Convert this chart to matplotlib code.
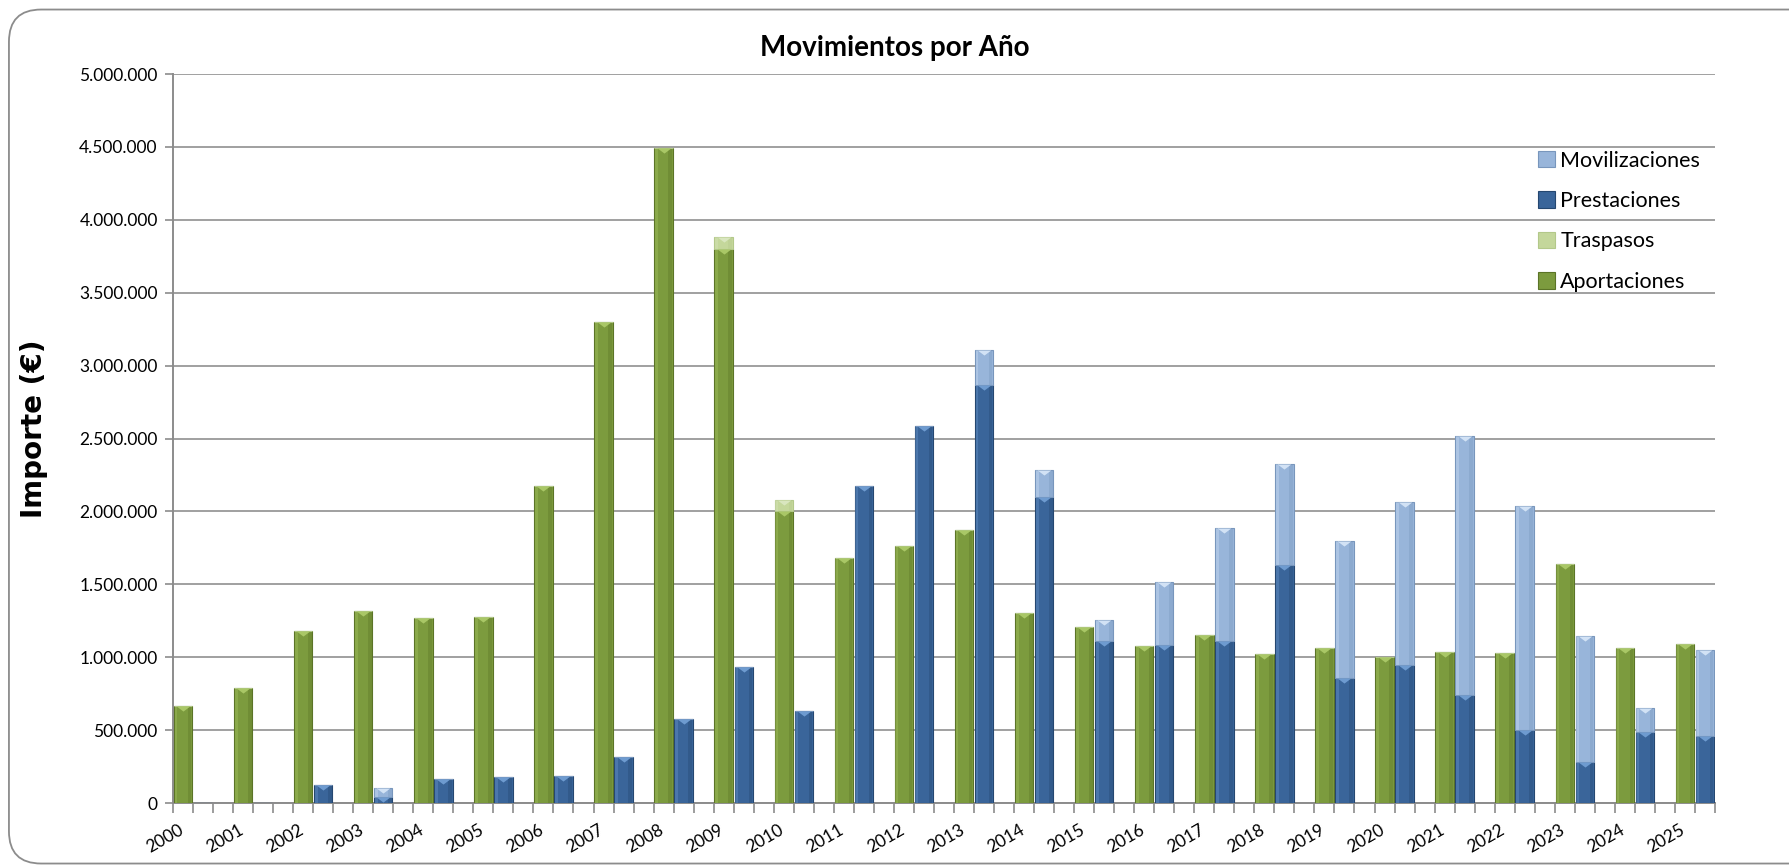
import numpy as np
import matplotlib
matplotlib.use("Agg")
import matplotlib.pyplot as plt
from matplotlib.patches import FancyBboxPatch, Patch
from matplotlib.path import Path
from matplotlib.ticker import FuncFormatter, MultipleLocator
from matplotlib.transforms import offset_copy

plt.rcParams['font.family'] = ['Lato', 'DejaVu Sans']

years = [str(y) for y in range(2000, 2026)]

aportaciones = [668000, 789000, 1178000, 1320000, 1272000, 1279000, 2173000, 3300000,
                4495000, 3800000, 2000000, 1683000, 1760000, 1876000, 1301000, 1208000,
                1075000, 1150000, 1020000, 1066000, 1002000, 1038000, 1032000, 1638000,
                1061000, 1089000]
traspasos = [0, 0, 0, 0, 0, 0, 0, 0,
             0, 84000, 80000, 0, 0, 0, 0, 0,
             0, 0, 0, 0, 0, 0, 0, 0,
             0, 0]
prestaciones = [0, 0, 121000, 39000, 162000, 178000, 188000, 318000,
                576000, 931000, 629000, 2175000, 2585000, 2866000, 2100000, 1109000,
                1086000, 1114000, 1633000, 855000, 947000, 739000, 503000, 284000,
                489000, 457000]
movilizaciones = [0, 0, 0, 62000, 0, 0, 0, 0,
                  0, 0, 0, 0, 0, 240000, 187000, 147000,
                  433000, 773000, 691000, 943000, 1116000, 1777000, 1537000, 864000,
                  165000, 593000]

series = {
    'Aportaciones': ('#7C9B3E', '#5B7427', '#A9C766'),
    'Traspasos': ('#C4D79B', '#B3C88A', '#D9E6BF'),
    'Prestaciones': ('#3A659A', '#254770', '#6E9BD0'),
    'Movilizaciones': ('#98B5DA', '#7896BC', '#D2E2F5'),
}

n = len(years)
x_green = np.arange(n) * 3 + 0.5
x_blue = np.arange(n) * 3 + 1.5
w = 0.92

fig = plt.figure(figsize=(17.89, 8.67), dpi=100)
fig.patches.append(FancyBboxPatch((0.005, 0.004), 1.05, 0.985,
                                  boxstyle="round,pad=0,rounding_size=0.018",
                                  transform=fig.transFigure, facecolor='white',
                                  edgecolor='#8C8C8C', linewidth=1.3, zorder=-10,
                                  mutation_aspect=1789 / 867))
ax = fig.add_axes([0.0967, 0.0738, 0.8619, 0.8408])

# bevel triangle used at the top of every segment
tri = Path([(-1, 0), (1, 0), (0, -0.75), (-1, 0)],
           [Path.MOVETO, Path.LINETO, Path.LINETO, Path.CLOSEPOLY])


def draw(xs, vals, bottom, name):
    face, edge, light = series[name]
    vals = np.array(vals, dtype=float)
    ax.bar(xs, vals, width=w, bottom=bottom, color=face, edgecolor=edge,
           linewidth=0.8, zorder=3)
    ax.bar(xs + w * 0.36, vals, width=w * 0.2, bottom=bottom, color=edge,
           alpha=0.35, linewidth=0, zorder=3)
    ax.bar(xs - w * 0.38, vals, width=w * 0.16, bottom=bottom, color=light,
           alpha=0.35, linewidth=0, zorder=3)
    tops = bottom + vals
    m = vals > 20000
    ax.scatter(xs[m], tops[m], marker=tri, s=95, color=light, linewidths=0,
               zorder=4)
    return tops


b = draw(x_green, aportaciones, np.zeros(n), 'Aportaciones')
draw(x_green, traspasos, b, 'Traspasos')
b = draw(x_blue, prestaciones, np.zeros(n), 'Prestaciones')
draw(x_blue, movilizaciones, b, 'Movilizaciones')

ax.set_xlim(0, 3 * n - 1)
ax.set_ylim(0, 5000000)
ax.yaxis.set_major_locator(MultipleLocator(500000))
ax.yaxis.set_major_formatter(FuncFormatter(lambda v, p: f"{int(v):,}".replace(',', '.')))
ax.grid(axis='y', color='#A0A0A0', linewidth=1.4, zorder=0)
ax.set_axisbelow(True)

ax.set_xticks(np.arange(0, 3 * n))
ax.set_xticklabels([])
ax.tick_params(axis='x', length=7, color='#8C8C8C', width=1.2)
ax.tick_params(axis='y', length=6, color='#8C8C8C', width=1.2, labelsize=12.5, pad=5)

# year labels, rotated under each pair of bars
lab_tr = offset_copy(ax.get_xaxis_transform(), fig=fig, x=0, y=-19, units='dots')
for i, yr in enumerate(years):
    ax.text(3 * i + 0.25, 0, yr, transform=lab_tr, rotation=30, ha='right',
            va='top', rotation_mode='anchor', fontsize=12.5)

for s in ['top', 'right']:
    ax.spines[s].set_visible(False)
for s in ['left', 'bottom']:
    ax.spines[s].set_color('#8C8C8C')
    ax.spines[s].set_linewidth(1.4)

fig.text(0.5, 0.945, 'Movimientos por Año', ha='center', va='center',
         fontsize=20, fontweight='bold')
fig.text(0.019, 0.505, 'Importe (€)', ha='center', va='center', rotation=90,
         fontsize=20, fontweight='bold', family='DejaVu Sans')

order = ['Movilizaciones', 'Prestaciones', 'Traspasos', 'Aportaciones']
handles = [Patch(facecolor=series[k][0], edgecolor=series[k][1], linewidth=0.8)
           for k in order]
ax.legend(handles, order, loc='upper left', bbox_to_anchor=(0.885, 0.895),
          frameon=False, fontsize=15.5, handlelength=0.8, handleheight=0.8,
          handletextpad=0.25, labelspacing=0.95, borderaxespad=0, borderpad=0)

fig.savefig('out.png', dpi=100)
